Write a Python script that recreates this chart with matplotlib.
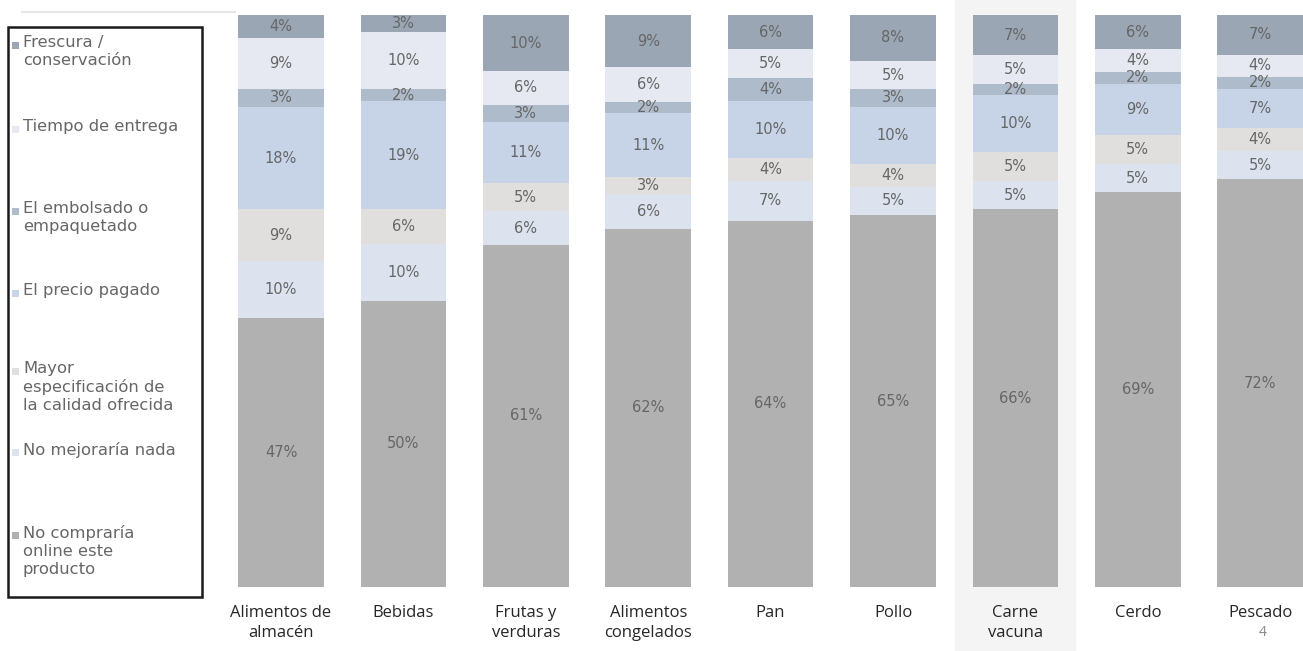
import matplotlib
matplotlib.use("Agg")
import matplotlib.pyplot as plt
import numpy as np
from matplotlib.patches import Rectangle
from matplotlib.lines import Line2D

categories = ["Alimentos de\nalmacén", "Bebidas", "Frutas y\nverduras", "Alimentos\ncongelados",
              "Pan", "Pollo", "Carne\nvacuna", "Cerdo", "Pescado"]

# series, bottom to top
no_compraria = [47, 50, 61, 62, 64, 65, 66, 69, 72]
no_mejoraria = [10, 10, 6, 6, 7, 5, 5, 5, 5]
mayor_espec = [9, 6, 5, 3, 4, 4, 5, 5, 4]
precio = [18, 19, 11, 11, 10, 10, 10, 9, 7]
embolsado = [3, 2, 3, 2, 4, 3, 2, 2, 2]
tiempo = [9, 10, 6, 6, 5, 5, 5, 4, 4]
frescura = [4, 3, 10, 9, 6, 8, 7, 6, 7]

series = [no_compraria, no_mejoraria, mayor_espec, precio, embolsado, tiempo, frescura]
series_names = ["No compraría\nonline este\nproducto", "No mejoraría nada",
                "Mayor\nespecificación de\nla calidad ofrecida", "El precio pagado",
                "El embolsado o\nempaquetado", "Tiempo de entrega", "Frescura /\nconservación"]
colors = ["#B1B1B1", "#DDE3EE", "#E0DFDE", "#C7D4E8", "#AEBBCA", "#E6E9F1", "#9AA6B4"]

W, H = 1303, 651
fig = plt.figure(figsize=(W / 100, H / 100), dpi=100)
fig.patch.set_facecolor("white")

ax = fig.add_axes([210 / W, (H - 587) / H, (W - 210) / W, 572 / H])
ax.set_facecolor("none")

data = np.array(series, dtype=float)
totals = data.sum(axis=0)
frac = data / totals

x = np.arange(len(categories))
xlim = ((210 - 281) / 122.4, (1303 - 281) / 122.4)
ax.set_xlim(*xlim)
ax.set_ylim(0, 1)

# highlight for Carne vacuna
ax.axvspan(6 - 0.49, 6 + 0.49, ymin=-0.115, ymax=1.03, color="#F4F4F4", zorder=0, clip_on=False)

bottom = np.zeros(len(categories))
for vals, fr, col in zip(series, frac, colors):
    ax.bar(x, fr, 0.70, bottom=bottom, color=col, edgecolor="none", zorder=2)
    for xi, v, b, f in zip(x, vals, bottom, fr):
        ax.text(xi, b + f / 2, f"{v}%", ha="center", va="center", fontsize=10.5,
                color="#666666", family="DejaVu Sans", zorder=3)
    bottom += fr

ax.set_xticks(x)
ax.set_xticklabels(categories, fontsize=12, color="#262626", family="Open Sans", linespacing=1.3)
ax.tick_params(axis="x", length=0, pad=13)
ax.set_yticks([])
for s in ax.spines.values():
    s.set_visible(False)

# legend box
fig.add_artist(Rectangle((8 / W, (H - 597) / H), 194 / W, 570 / H, transform=fig.transFigure,
                         facecolor="none", edgecolor="#1A1A1A", linewidth=1.8))
leg_y = [45, 129, 211, 293, 371, 452, 535]
leg_order = [6, 5, 4, 3, 2, 1, 0]
for yy, idx in zip(leg_y, leg_order):
    fig.add_artist(Rectangle((12 / W, (H - yy - 4) / H), 7 / W, 7 / H, transform=fig.transFigure,
                             facecolor=colors[idx], edgecolor="none"))
    fig.text(23 / W, (H - yy) / H + 0.016, series_names[idx], ha="left", va="top",
             fontsize=11.8, color="#666666", family="DejaVu Sans", linespacing=1.25)

# top decorative line
fig.add_artist(Line2D([22 / W, 235 / W], [(H - 12) / H] * 2, transform=fig.transFigure,
                      color="#E6E6E6", linewidth=1.5))

fig.text(1263 / W, (H - 633) / H, "4", ha="center", va="center", fontsize=10, color="#8A8A8A",
         family="Open Sans")

fig.savefig("out.png", dpi=100)
